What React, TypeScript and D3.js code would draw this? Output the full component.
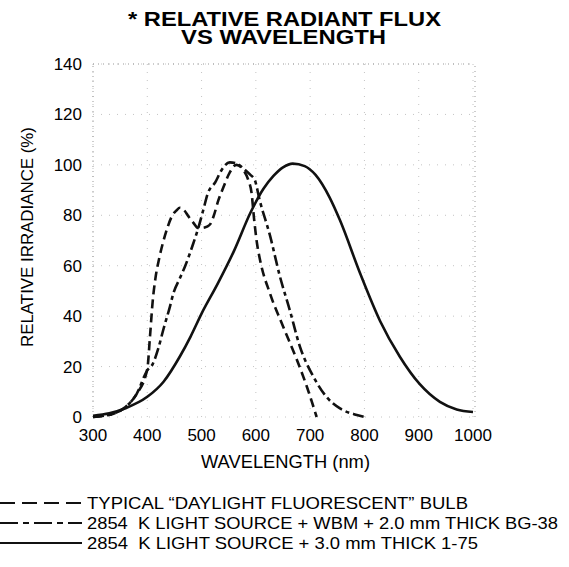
import React from "react";
import * as d3 from "d3";

// wavelength (nm) / relative irradiance (%)
const fluorWl = [300, 320, 340, 360, 380, 400, 405, 410, 415, 422, 430, 437, 445, 454, 460, 468, 476, 485, 493, 500, 510, 516, 522, 531, 540, 552, 564, 575, 586, 592, 597, 602, 608, 626, 650, 675, 694, 712];
const fluorVal = [0, 0.5, 1.5, 4, 9, 19, 32, 46, 55, 63, 70, 75, 79.5, 82, 83, 82, 79.5, 77, 75, 75, 75.5, 76.5, 79.5, 86, 91, 97, 100, 98.5, 94, 89, 78, 69, 62, 49, 36, 23, 12, 0];

const bg38Wl = [300, 320, 340, 360, 380, 400, 410, 420, 430, 442, 448, 460, 470, 485, 494, 503, 512, 525, 537, 552, 565, 580, 590, 598, 607, 626, 644, 663, 681, 706, 730, 755, 786, 800];
const bg38Val = [0, 0.5, 1.5, 4, 9, 18.5, 21, 27, 35, 44, 49, 55, 60, 69, 75, 82, 89, 93, 98, 101, 100.5, 98, 96, 94, 86, 72, 56, 42, 28, 16, 8, 3.4, 0.8, 0];

const filt175Wl = [300, 330, 360, 400, 430, 460, 480, 500, 530, 560, 590, 614, 632, 650, 668, 690, 710, 736, 755, 792, 829, 865, 902, 939, 970, 1000];
const filt175Val = [0.5, 1.5, 3.5, 8, 14, 24, 32, 41, 53, 66, 81, 90.5, 95.5, 99, 100.5, 99.5, 96, 87, 78, 57, 38, 24, 13, 6, 3, 2];

const xTicks = [300, 400, 500, 600, 700, 800, 900, 1000];
const yTicks = [0, 20, 40, 60, 80, 100, 120, 140];

const legendLabels = [
  "TYPICAL \u201cDAYLIGHT FLUORESCENT\u201d BULB",
  "2854\u00a0 K LIGHT SOURCE + WBM + 2.0 mm THICK BG-38",
  "2854\u00a0 K LIGHT SOURCE + 3.0 mm THICK 1-75",
];

const W = 569;
const H = 567;
const font = "'Liberation Sans', Arial, Helvetica, sans-serif";

const App = () => {
  const x = d3.scaleLinear().domain([300, 1000]).range([93, 473]);
  const y = d3.scaleLinear().domain([0, 140]).range([417, 64]);

  const line = d3
    .line<[number, number]>()
    .x(d => x(d[0]))
    .y(d => y(d[1]))
    .curve(d3.curveMonotoneX);

  const zip = (a: number[], b: number[]) => a.map((v, i) => [v, b[i]] as [number, number]);

  const series = [
    { pts: zip(fluorWl, fluorVal), dash: "9 5" },
    { pts: zip(bg38Wl, bg38Val), dash: "11 4 4 4" },
    { pts: zip(filt175Wl, filt175Val), dash: "none" },
  ];
  const legendDash = ["15 7", "18 5 6 5", "none"];
  const legendY = [503, 523, 543];
  const legendLen = [381, 471, 391];

  return (
    <svg width={W} height={H} style={{ position: "absolute", left: 0, top: 0, background: "#fff" }}>
      {/* title */}
      <text x={128} y={26} fontFamily={font} fontWeight="bold" fontSize={20.5} textLength={313} lengthAdjust="spacingAndGlyphs">
        * RELATIVE RADIANT FLUX
      </text>
      <text x={181} y={44} fontFamily={font} fontWeight="bold" fontSize={20.5} textLength={205} lengthAdjust="spacingAndGlyphs">
        VS WAVELENGTH
      </text>

      {/* faint dotted grid */}
      <g stroke="#c4c4c4" strokeWidth={1} strokeDasharray="1 7">
        {yTicks.map(t => (
          <line key={"gy" + t} x1={x(300)} x2={x(1000)} y1={y(t)} y2={y(t)} />
        ))}
        {xTicks.map(t => (
          <line key={"gx" + t} x1={x(t)} x2={x(t)} y1={y(0)} y2={y(140)} />
        ))}
      </g>
      <g stroke="#999" strokeWidth={1} strokeDasharray="1 4">
        <line x1={x(300)} x2={x(300)} y1={y(0)} y2={y(140)} />
        <line x1={x(1000) + 2} x2={x(1000) + 2} y1={y(0)} y2={y(140)} />
        <line x1={x(300)} x2={x(1000)} y1={y(140)} y2={y(140)} />
      </g>

      {/* y ticks */}
      {yTicks.map(t => (
        <text key={"yt" + t} x={82} y={y(t) + 6} textAnchor="end" fontFamily={font} fontSize={17}>
          {t}
        </text>
      ))}
      {/* x ticks */}
      {xTicks.map(t => (
        <text key={"xt" + t} x={x(t)} y={441} textAnchor="middle" fontFamily={font} fontSize={17}>
          {t}
        </text>
      ))}

      <text
        transform="translate(33 237) rotate(-90)"
        textAnchor="middle"
        fontFamily={font}
        fontSize={17}
        textLength={220}
        lengthAdjust="spacingAndGlyphs"
      >
        RELATIVE IRRADIANCE (%)
      </text>
      <text x={201} y={468} fontFamily={font} fontSize={17.5} textLength={169} lengthAdjust="spacingAndGlyphs">
        WAVELENGTH (nm)
      </text>

      {/* curves */}
      {series.map((s, i) => (
        <path
          key={i}
          d={line(s.pts) || ""}
          fill="none"
          stroke="#111"
          strokeWidth={2.6}
          strokeDasharray={s.dash}
        />
      ))}

      {/* legend */}
      {legendLabels.map((lab, i) => (
        <g key={"lg" + i}>
          <line x1={0} x2={82} y1={legendY[i]} y2={legendY[i]} stroke="#111" strokeWidth={2} strokeDasharray={legendDash[i]} />
          <text
            x={87}
            y={legendY[i] + 6}
            fontFamily={font}
            fontSize={17}
            textLength={legendLen[i]}
            lengthAdjust="spacingAndGlyphs"
          >
            {lab}
          </text>
        </g>
      ))}
    </svg>
  );
};

export default App;
